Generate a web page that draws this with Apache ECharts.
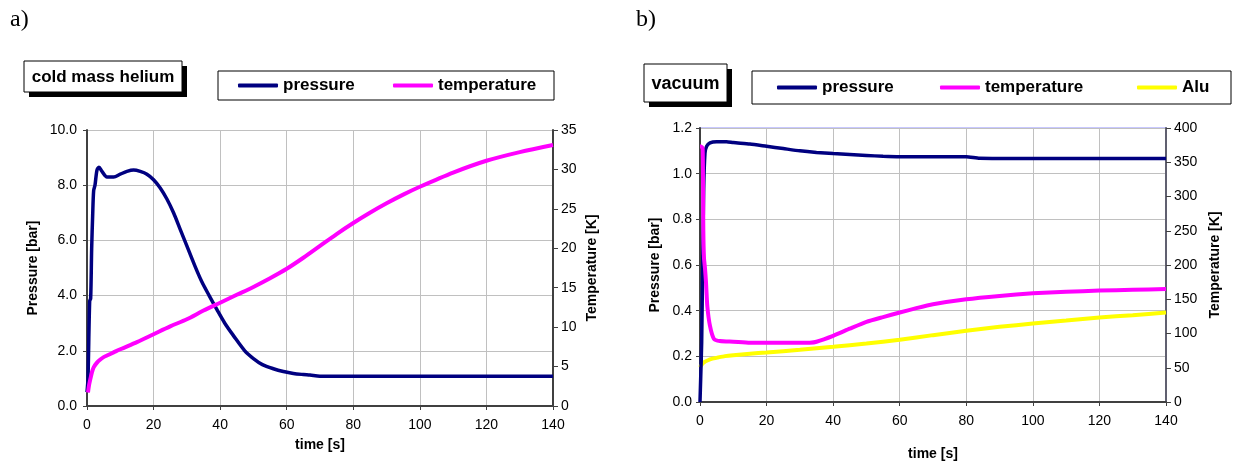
<!DOCTYPE html>
<html>
<head>
<meta charset="utf-8">
<script src="https://cdn.jsdelivr.net/npm/echarts@6/dist/echarts.min.js"></script>
<style>
html,body{margin:0;padding:0;background:#fff;}
#c{width:1234px;height:466px;}
</style>
</head>
<body>
<div id="c"></div>
<script>
// ---- Chart a) cold mass helium ----
const timeTicks = [0, 20, 40, 60, 80, 100, 120, 140];
const a_pressure_t = [0, 0.3, 0.8, 1.1, 1.4, 1.7, 2.0, 2.4, 3.0, 3.6, 4.5, 6, 8, 10, 12, 14, 16, 18, 20, 22, 24, 26, 28, 30, 32.5, 34.5, 36.7, 39, 41.4, 44, 47.4, 50, 52.7, 56, 59, 62, 65, 67, 70, 80, 100, 120, 140];
const a_pressure_v = [0.5, 1.0, 3.8, 3.9, 5.7, 6.9, 7.8, 8.0, 8.55, 8.65, 8.5, 8.3, 8.3, 8.4, 8.5, 8.55, 8.5, 8.4, 8.2, 7.9, 7.5, 7.0, 6.4, 5.8, 5.05, 4.5, 4.0, 3.5, 3.0, 2.55, 2.0, 1.72, 1.5, 1.35, 1.25, 1.18, 1.14, 1.12, 1.08, 1.08, 1.08, 1.08, 1.08];
const a_temp_t = [0.3, 0.6, 1, 1.5, 2, 3, 4, 5, 6, 8, 10, 15, 20, 25, 30, 35, 40, 45, 50, 55, 60, 65, 70, 75, 80, 85, 90, 95, 100, 110, 120, 130, 140];
const a_temp_v = [1.7, 2.6, 3.4, 4.3, 4.9, 5.5, 5.9, 6.2, 6.4, 6.8, 7.2, 8.1, 9.1, 10.1, 11.0, 12.1, 13.1, 14.1, 15.1, 16.2, 17.4, 18.8, 20.3, 21.8, 23.2, 24.5, 25.7, 26.8, 27.8, 29.6, 31.1, 32.2, 33.1];

// ---- Chart b) vacuum ----
const b_pressure_t = [0, 0.2, 0.5, 0.8, 1.1, 1.5, 2, 3, 5, 8, 10, 15, 20, 25, 30, 35, 40, 45, 50, 55, 60, 70, 80, 84, 100, 120, 140];
const b_pressure_v = [0.0, 0.1, 0.26, 0.6, 0.93, 1.09, 1.12, 1.135, 1.14, 1.14, 1.136, 1.13, 1.12, 1.11, 1.10, 1.093, 1.088, 1.084, 1.08, 1.076, 1.074, 1.074, 1.074, 1.067, 1.066, 1.066, 1.066];
const b_temp_t = [0, 0.3, 0.8, 1.0, 1.2, 1.5, 1.8, 2.2, 3, 4.2, 6, 10, 15, 20, 25, 30, 33, 35, 40, 45, 50, 55, 60, 65, 70, 80, 90, 100, 110, 120, 130, 140];
const b_temp_v = [373, 373, 370, 250, 210, 195, 175, 140, 111, 92, 89, 88, 86.5, 86.4, 86.4, 86.4, 86.6, 88, 96.6, 107, 117, 124, 130.6, 137, 142.7, 150, 154.9, 158.7, 161, 162.6, 163.8, 165];
const b_alu_t = [0, 0.6, 1.2, 2.4, 3.5, 5.4, 7.5, 10, 15, 20, 30, 40, 50, 60, 70, 80, 90, 100, 110, 120, 130, 140];
const b_alu_v = [50.5, 55, 58, 61, 63, 65, 67, 68.4, 70.5, 72.3, 76.2, 80.6, 85.4, 90.8, 97.6, 103.9, 109.7, 114.6, 118.9, 123.3, 126.7, 130.6];

const colors = { pressure: '#000080', temperature: '#ff00ff', Alu: '#ffff00' };

function pairs(t, v) { return t.map((x, i) => [x, v[i]]); }

const FONT = '"Liberation Sans", Arial, sans-serif';
const labelStyle = { color: '#000', fontFamily: FONT, fontSize: 14 };
const nameStyle = { color: '#000', fontFamily: FONT, fontSize: 14, fontWeight: 'bold' };

function xAxisDef(gridIndex, nameGap) {
  return {
    type: 'value', gridIndex, min: 0, max: 140, interval: 20,
    name: 'time [s]', nameLocation: 'middle', nameGap, nameTextStyle: nameStyle,
    axisLine: { show: true, lineStyle: { color: '#404040', width: 2 } },
    axisTick: { show: true, length: 4, lineStyle: { color: '#404040' } },
    axisLabel: { ...labelStyle, margin: 12 },
    splitLine: { show: true, lineStyle: { color: '#c0c0c0', width: 1 } }
  };
}

function legendItem(name, left, top) {
  return {
    left, top, padding: 0, data: [name],
    icon: 'roundRect', itemWidth: 40, itemHeight: 4, itemGap: 0,
    textStyle: { color: '#000', fontFamily: FONT, fontSize: 17, fontWeight: 'bold', lineHeight: 20, padding: [0, 0, 0, 0] },
    formatter: n => n.trim(), selectedMode: false
  };
}

const chart = echarts.init(document.getElementById('c'), null, { renderer: 'canvas' });
const option = {
  animation: false,
  backgroundColor: '#fff',
  grid: [
    { left: 87, top: 130, width: 466, height: 276, containLabel: false },
    { left: 700, top: 128, width: 466, height: 274, containLabel: false, show: true, borderColor: '#c8c8ff', borderWidth: 2, backgroundColor: 'transparent' }
  ],
  legend: [
    legendItem('pressure', 238, 75.5),
    legendItem('temperature', 393, 75.5),
    legendItem('pressure ', 777, 77.5),
    legendItem('temperature ', 940, 77.5),
    legendItem('Alu', 1137, 77.5)
  ],
  xAxis: [xAxisDef(0, 32), xAxisDef(1, 45)],
  yAxis: [
    {
      type: 'value', gridIndex: 0, min: 0, max: 10, interval: 2, position: 'left',
      name: 'Pressure [bar]', nameLocation: 'middle', nameGap: 47, nameRotate: 90, nameTextStyle: nameStyle,
      axisLine: { show: true, lineStyle: { color: '#404040', width: 2 } },
      axisTick: { show: true, length: 4, lineStyle: { color: '#404040' } },
      axisLabel: { ...labelStyle, margin: 10, formatter: v => v.toFixed(1) },
      splitLine: { show: true, lineStyle: { color: '#c0c0c0', width: 1 } }
    },
    {
      type: 'value', gridIndex: 0, min: 0, max: 35, interval: 5, position: 'right',
      name: 'Temperature [K]', nameLocation: 'middle', nameGap: 32, nameRotate: 90, nameTextStyle: nameStyle,
      axisLine: { show: true, lineStyle: { color: '#404040', width: 2 } },
      axisTick: { show: true, length: 5, lineStyle: { color: '#404040' } },
      axisLabel: { ...labelStyle, margin: 8 },
      splitLine: { show: false }
    },
    {
      type: 'value', gridIndex: 1, min: 0, max: 1.2, interval: 0.2, position: 'left',
      name: 'Pressure [bar]', nameLocation: 'middle', nameGap: 38, nameRotate: 90, nameTextStyle: nameStyle,
      axisLine: { show: true, lineStyle: { color: '#404040', width: 2 } },
      axisTick: { show: true, length: 4, lineStyle: { color: '#404040' } },
      axisLabel: { ...labelStyle, margin: 8, formatter: v => v.toFixed(1) },
      splitLine: { show: true, lineStyle: { color: '#c0c0c0', width: 1 } }
    },
    {
      type: 'value', gridIndex: 1, min: 0, max: 400, interval: 50, position: 'right',
      name: 'Temperature [K]', nameLocation: 'middle', nameGap: 42, nameRotate: 90, nameTextStyle: nameStyle,
      axisLine: { show: true, lineStyle: { color: '#606070', width: 2 } },
      axisTick: { show: true, length: 5, lineStyle: { color: '#404040' } },
      axisLabel: { ...labelStyle, margin: 8 },
      splitLine: { show: false }
    }
  ],
  series: [
    { name: 'pressure', type: 'line', xAxisIndex: 0, yAxisIndex: 0, data: pairs(a_pressure_t, a_pressure_v), showSymbol: false, smooth: 0.3, lineStyle: { color: colors.pressure, width: 3.5 }, itemStyle: { color: colors.pressure }, z: 3 },
    { name: 'temperature', type: 'line', xAxisIndex: 0, yAxisIndex: 1, data: pairs(a_temp_t, a_temp_v), showSymbol: false, smooth: 0.3, lineStyle: { color: colors.temperature, width: 4 }, itemStyle: { color: colors.temperature }, z: 4 },
    { name: 'pressure ', type: 'line', xAxisIndex: 1, yAxisIndex: 2, data: pairs(b_pressure_t, b_pressure_v), showSymbol: false, smooth: 0.2, lineStyle: { color: colors.pressure, width: 3.5 }, itemStyle: { color: colors.pressure }, z: 3 },
    { name: 'temperature ', type: 'line', xAxisIndex: 1, yAxisIndex: 3, data: pairs(b_temp_t, b_temp_v), showSymbol: false, smooth: 0.2, lineStyle: { color: colors.temperature, width: 4 }, itemStyle: { color: colors.temperature }, z: 4 },
    { name: 'Alu', type: 'line', xAxisIndex: 1, yAxisIndex: 3, data: pairs(b_alu_t, b_alu_v), showSymbol: false, smooth: 0.2, lineStyle: { color: colors.Alu, width: 4 }, itemStyle: { color: colors.Alu }, z: 2 }
  ],
  graphic: [
    { type: 'text', left: 10, top: 8, style: { text: 'a)', font: '24px "Liberation Serif", "Times New Roman", serif', fill: '#000' } },
    { type: 'text', left: 636, top: 8, style: { text: 'b)', font: '24px "Liberation Serif", "Times New Roman", serif', fill: '#000' } },
    // title boxes with drop shadow
    { type: 'rect', shape: { x: 29, y: 66, width: 158, height: 31 }, style: { fill: '#000' } },
    { type: 'rect', shape: { x: 24, y: 61, width: 158, height: 31 }, style: { fill: '#fff', stroke: '#000', lineWidth: 1 } },
    { type: 'text', x: 103, y: 77, style: { text: 'cold mass helium', font: 'bold 17px "Liberation Sans", Arial, sans-serif', fill: '#000', align: 'center', verticalAlign: 'middle' } },
    { type: 'rect', shape: { x: 649, y: 69, width: 83, height: 38 }, style: { fill: '#000' } },
    { type: 'rect', shape: { x: 644, y: 64, width: 83, height: 38 }, style: { fill: '#fff', stroke: '#000', lineWidth: 1 } },
    { type: 'text', x: 685.5, y: 84, style: { text: 'vacuum', font: 'bold 18px "Liberation Sans", Arial, sans-serif', fill: '#000', align: 'center', verticalAlign: 'middle' } },
    // legend frames
    { type: 'rect', z: -1, shape: { x: 218, y: 71, width: 336, height: 29 }, style: { fill: '#fff', stroke: '#000', lineWidth: 1 } },
    { type: 'rect', z: -1, shape: { x: 752, y: 71, width: 479, height: 33 }, style: { fill: '#fff', stroke: '#000', lineWidth: 1 } }
  ]
};
chart.setOption(option);
</script>
</body>
</html>
